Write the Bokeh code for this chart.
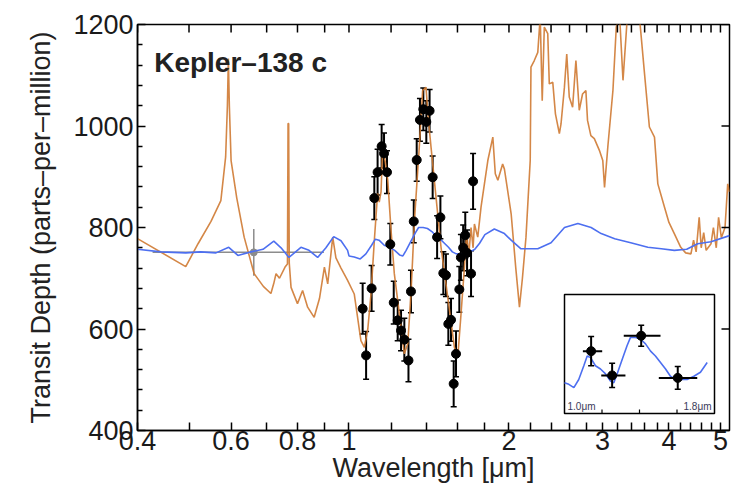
import numpy as np
from bokeh.plotting import figure
from bokeh.models import (ColumnDataSource, Whisker, TeeHead, FixedTicker,
                          Range1d, LinearScale, Label)
from bokeh.embed import file_html
from bokeh.resources import INLINE
from bokeh.core.properties import value

FONT = "Liberation Sans"

# ---------------- data ----------------
# orange model spectrum (wavelength um, transit depth ppm)
model_wl = [0.400, 0.493, 0.520, 0.550, 0.574, 0.586, 0.5905, 0.593, 0.5955, 0.600,
            0.615, 0.635, 0.663, 0.690, 0.713, 0.722, 0.729, 0.740, 0.758, 0.766,
            0.768, 0.770, 0.772, 0.778, 0.800, 0.818, 0.836, 0.860, 0.880, 0.899,
            0.912, 0.932, 0.945, 0.966, 0.994, 1.023, 1.053, 1.069, 1.085, 1.100,
            1.116, 1.132, 1.140, 1.149, 1.157, 1.170, 1.183, 1.200, 1.217, 1.244,
            1.271, 1.290, 1.308, 1.328, 1.356, 1.376, 1.396, 1.411, 1.427, 1.458,
            1.490, 1.534, 1.579, 1.602, 1.625, 1.649, 1.665, 1.680, 1.697, 1.712,
            1.722, 1.747, 1.772, 1.825, 1.865, 1.885, 1.906, 1.946, 1.961, 2.019,
            2.060, 2.093, 2.120, 2.153,
            2.193, 2.200, 2.232, 2.266, 2.290, 2.310, 2.331, 2.366, 2.382, 2.418,
            2.446, 2.488, 2.506, 2.543, 2.569, 2.597, 2.635, 2.673, 2.712, 2.751,
            2.791, 2.811, 2.852, 2.895, 2.959, 3.003, 3.026, 3.070, 3.138, 3.184,
            3.231, 3.278,
            3.340, 3.520, 3.594, 3.675, 3.757, 3.812, 3.924, 4.000, 4.094, 4.210,
            4.300, 4.400, 4.450, 4.500, 4.560, 4.600, 4.650, 4.700, 4.800, 4.850,
            4.910, 4.960, 5.020, 5.100, 5.160, 5.200]
model_td = [778, 723, 768, 812, 853, 939, 1040, 1133, 1040, 932,
            858, 781, 709, 684, 670, 690, 709, 700, 722, 728,
            1005, 1005, 730, 682, 650, 676, 643, 623, 660, 722,
            689, 781, 740, 720, 696, 669, 577, 564, 600, 669,
            774, 867, 850, 870, 958, 930, 893, 794, 709, 630,
            551, 571, 669, 814, 958, 1070, 1076, 1011, 958, 860,
            761, 663, 564, 544, 630, 722, 790, 745, 800, 760,
            807, 781, 840, 932, 978, 906, 893, 925, 915, 827,
            720, 643, 700, 781,
            932, 1116, 1129, 1145, 1215, 1050, 1195, 1182, 1083, 1086,
            1024, 985, 1004, 1076, 1142, 1057, 1037, 1129, 1031, 1063,
            1070, 1011, 981, 975, 952, 932, 879, 960, 1070, 1195,
            1215, 1090,
            1215, 1215, 1109, 998, 978, 886, 840, 810, 788, 761,
            750, 748, 775, 752, 820, 760, 790, 755, 768, 800,
            760, 820, 780, 800, 886, 870]

# blue (flat) model spectrum
flat_wl = [0.400, 0.443, 0.493, 0.526, 0.562, 0.594, 0.618, 0.654, 0.689, 0.722,
           0.745, 0.771, 0.812, 0.841, 0.873, 0.905, 0.936, 0.966, 0.994,
           1.000, 1.023, 1.050, 1.076, 1.103, 1.121, 1.139, 1.165, 1.192, 1.219,
           1.245, 1.263, 1.281, 1.308, 1.334, 1.352, 1.379, 1.405, 1.432, 1.459,
           1.485, 1.512, 1.539, 1.565, 1.592, 1.619, 1.654, 1.690, 1.725, 1.761,
           1.802, 1.877, 1.961, 2.019, 2.107, 2.266, 2.400, 2.544, 2.696, 2.855,
           2.982, 3.162, 3.390, 3.650, 3.870, 4.094, 4.320, 4.530, 4.800, 5.200]
flat_td = [757, 752, 750, 752, 750, 761, 745, 752, 757, 773,
           760, 741, 761, 755, 741, 760, 782, 774, 755,
           744, 742, 738, 748, 765, 777, 775, 765, 761, 755,
           746, 744, 755, 773, 790, 800, 800, 798, 792, 783,
           777, 769, 761, 752, 748, 748, 748, 752, 757, 769,
           786, 797, 788, 775, 758, 758, 770, 800, 808, 800,
           788, 778, 770, 761, 758, 755, 757, 768, 772, 784]

# simulated HST/WFC3 points
wfc3_wl = [1.061, 1.077, 1.103, 1.116, 1.132, 1.152, 1.164, 1.179, 1.196, 1.214,
           1.235, 1.253, 1.271, 1.294, 1.308, 1.324, 1.341, 1.360, 1.380, 1.398,
           1.418, 1.437, 1.465, 1.486, 1.505, 1.522, 1.538, 1.556, 1.574, 1.590,
           1.613, 1.624, 1.640, 1.655, 1.668, 1.697, 1.712]
wfc3_td = [640, 548, 680, 858, 909, 960, 946, 909, 767, 652,
           617, 597, 579, 538, 674, 812, 933, 1012, 1033, 1008,
           1030, 899, 781, 820, 710, 706, 610, 618, 492, 551,
           678, 741, 760, 785, 750, 709, 891]
wfc3_err = [50, 47, 45, 42, 45, 43, 40, 42, 41, 42,
            40, 40, 42, 42, 42, 42, 42, 42, 42, 42,
            42, 42, 42, 42, 42, 42, 42, 42, 45, 45,
            45, 45, 45, 45, 45, 45, 55]

# Kepler band point
kepler_wl = [0.662]
kepler_td = [751]
kepler_err = [46]
kepler_lo = [0.427]
kepler_hi = [0.897]

# binned points shown in the inset
bin_wl = [1.142, 1.254, 1.409, 1.604]
bin_td = [783, 753, 802, 750]
bin_err = [18, 15, 13, 14]
bin_lo = [1.098, 1.196, 1.316, 1.503]
bin_hi = [1.201, 1.325, 1.512, 1.708]

x_range = [0.4, 5.2]
y_range = [400, 1200]
x_major = [0.4, 0.6, 0.8, 1.0, 2.0, 3.0, 4.0, 5.0]
x_major_labels = ["0.4", "0.6", "0.8", "1", "2", "3", "4", "5"]
x_minor = [0.5, 0.7, 0.9, 1.2, 1.4, 1.6, 1.8, 2.2, 2.4, 2.6, 2.8, 3.2, 3.4, 3.6,
           3.8, 4.2, 4.4, 4.6, 4.8]
y_ticks = [400, 600, 800, 1000, 1200]
y_minor = [440, 480, 520, 560, 640, 680, 720, 760, 840, 880, 920, 960,
           1040, 1080, 1120, 1160]
inset_x = [1.0, 1.8]
inset_y = [706, 853]
inset_ticks = [1.2, 1.4, 1.6]
inset_labels = ["1.0\u03bcm", "1.8\u03bcm"]
title_text = "Kepler\u2013138 c"
x_title = "Wavelength [\u03bcm]"
y_title = "Transit Depth (parts\u2013per\u2013million)"

# ---------------- layout (pixels) ----------------
W, H = 739, 491
FL, FR, FT, FB = 137, 729, 24, 430          # frame box
IL, IR, IT, IB = 564, 714, 294, 413         # inset box
fw, fh = FR - FL, FB - FT

sx = (inset_x[1] - inset_x[0]) / (IR - IL)
ix_start = inset_x[0] - (IL - FL) * sx
sy = (inset_y[1] - inset_y[0]) / (IB - IT)
iy_start = inset_y[0] - (FB - IB) * sy

ORANGE = "#cf7a33"
BLUE = "#4d6ff0"
GRAY = "#8c8c8c"

p = figure(width=W, height=H, x_axis_type="log", x_range=Range1d(*x_range),
           y_range=Range1d(*y_range), output_backend="svg", toolbar_location=None,
           min_border_left=FL, min_border_right=W - FR, min_border_top=FT,
           min_border_bottom=H - FB)
p.extra_x_ranges = {"inset": Range1d(ix_start, ix_start + fw * sx)}
p.extra_x_scales = {"inset": LinearScale()}
p.extra_y_ranges = {"inset": Range1d(iy_start, iy_start + fh * sy)}

p.xgrid.visible = False
p.ygrid.visible = False
p.outline_line_color = "black"
p.outline_line_width = 1.5
p.background_fill_color = "white"
p.border_fill_color = "white"

# ---- main glyphs ----
p.segment(x0=kepler_lo, x1=kepler_hi, y0=kepler_td, y1=kepler_td,
          line_color=GRAY, line_width=1.5)
p.segment(x0=kepler_wl, x1=kepler_wl,
          y0=[a - b for a, b in zip(kepler_td, kepler_err)],
          y1=[a + b for a, b in zip(kepler_td, kepler_err)],
          line_color=GRAY, line_width=1.5)
p.scatter(kepler_wl, kepler_td, marker="circle", size=7, color=GRAY)

p.line(model_wl, model_td, line_color=ORANGE, line_width=1.6, line_alpha=0.9)
p.line(flat_wl, flat_td, line_color=BLUE, line_width=1.6)

wsrc = ColumnDataSource(dict(x=wfc3_wl, y=wfc3_td,
                             lo=[a - b for a, b in zip(wfc3_td, wfc3_err)],
                             hi=[a + b for a, b in zip(wfc3_td, wfc3_err)]))
p.add_layout(Whisker(source=wsrc, base="x", lower="lo", upper="hi", dimension="height",
                     line_color="black", line_width=2,
                     upper_head=TeeHead(size=6, line_color="black", line_width=1.5),
                     lower_head=TeeHead(size=6, line_color="black", line_width=1.5)))
p.scatter(x="x", y="y", source=wsrc, marker="circle", size=9, color="black")

# ---- ticks on the top and right frame edges ----
p.scatter(x=x_major + x_minor, y=[y_range[1]] * (len(x_major) + len(x_minor)),
          marker="dash", angle=np.pi / 2, size=16, line_color="black", line_width=1.5)
p.scatter(x=[x_range[1]] * len(y_ticks), y=y_ticks, marker="dash", size=16,
          line_color="black", line_width=1.5)

# ---- inset ----
R = dict(x_range_name="inset", y_range_name="inset")
p.quad(left=[inset_x[0]], right=[inset_x[1]], bottom=[inset_y[0]], top=[inset_y[1]],
       fill_color="white", line_color="black", line_width=1.5, **R)
fwl = np.array(flat_wl)
ftd = np.array(flat_td)
m = (fwl >= inset_x[0]) & (fwl <= inset_x[1])
p.line(fwl[m], ftd[m], line_color=BLUE, line_width=1.6, **R)
p.segment(x0=inset_ticks, x1=inset_ticks, y0=[inset_y[0]] * len(inset_ticks),
          y1=[inset_y[0] + 4 * sy] * len(inset_ticks), line_color="black",
          line_width=1.2, **R)
blo = [a - b for a, b in zip(bin_td, bin_err)]
bhi = [a + b for a, b in zip(bin_td, bin_err)]
p.segment(x0=bin_lo, x1=bin_hi, y0=bin_td, y1=bin_td, line_color="black",
          line_width=2, **R)
p.segment(x0=bin_wl, x1=bin_wl, y0=blo, y1=bhi, line_color="black", line_width=2, **R)
p.scatter(x=bin_wl + bin_wl, y=blo + bhi, marker="dash", size=6, line_color="black",
          line_width=1.5, **R)
p.scatter(x=bin_wl, y=bin_td, marker="circle", size=9, color="black", **R)
p.text(x=[inset_x[0]], y=[inset_y[0]], text=[inset_labels[0]], x_offset=3, y_offset=-2,
       text_font=value(FONT), text_font_size=value("10px"), text_color="#3a3a5a",
       text_align="left", text_baseline="bottom", **R)
p.text(x=[inset_x[1]], y=[inset_y[0]], text=[inset_labels[1]], x_offset=-3, y_offset=-2,
       text_font=value(FONT), text_font_size=value("10px"), text_color="#3a3a5a",
       text_align="right", text_baseline="bottom", **R)

# ---- title ----
p.add_layout(Label(x=0.43, y=1125, text=title_text, text_font=FONT,
                   text_font_size="28px", text_font_style="bold", text_color="#222222",
                   text_baseline="alphabetic"))

# ---- axes ----
xax = p.below[0]
yax = p.left[0]
xax.ticker = FixedTicker(ticks=x_major, minor_ticks=x_minor)
xax.major_label_overrides = dict(zip(x_major, x_major_labels))
yax.ticker = FixedTicker(ticks=y_ticks, minor_ticks=y_minor)
xax.axis_label = x_title
yax.axis_label = y_title

for ax in [xax, yax]:
    ax.axis_line_color = "black"
    ax.axis_line_width = 1.5
    ax.major_tick_line_color = "black"
    ax.major_tick_line_width = 1.5
    ax.minor_tick_line_color = "black"
    ax.minor_tick_line_width = 1.5
    ax.major_tick_in = 8
    ax.major_tick_out = 0
    ax.minor_tick_out = 0
    ax.major_label_text_font = FONT
    ax.major_label_text_font_size = "27px"
    ax.major_label_text_color = "#1a1a1a"
    ax.axis_label_text_font = FONT
    ax.axis_label_text_font_size = "27px"
    ax.axis_label_text_font_style = "normal"
    ax.axis_label_text_color = "#222222"

xax.minor_tick_in = 8
yax.minor_tick_in = 5
xax.major_label_standoff = 0
xax.axis_label_standoff = 0
yax.major_label_standoff = 4
yax.axis_label_standoff = 14

open("out.html", "w").write(file_html(p, INLINE))
